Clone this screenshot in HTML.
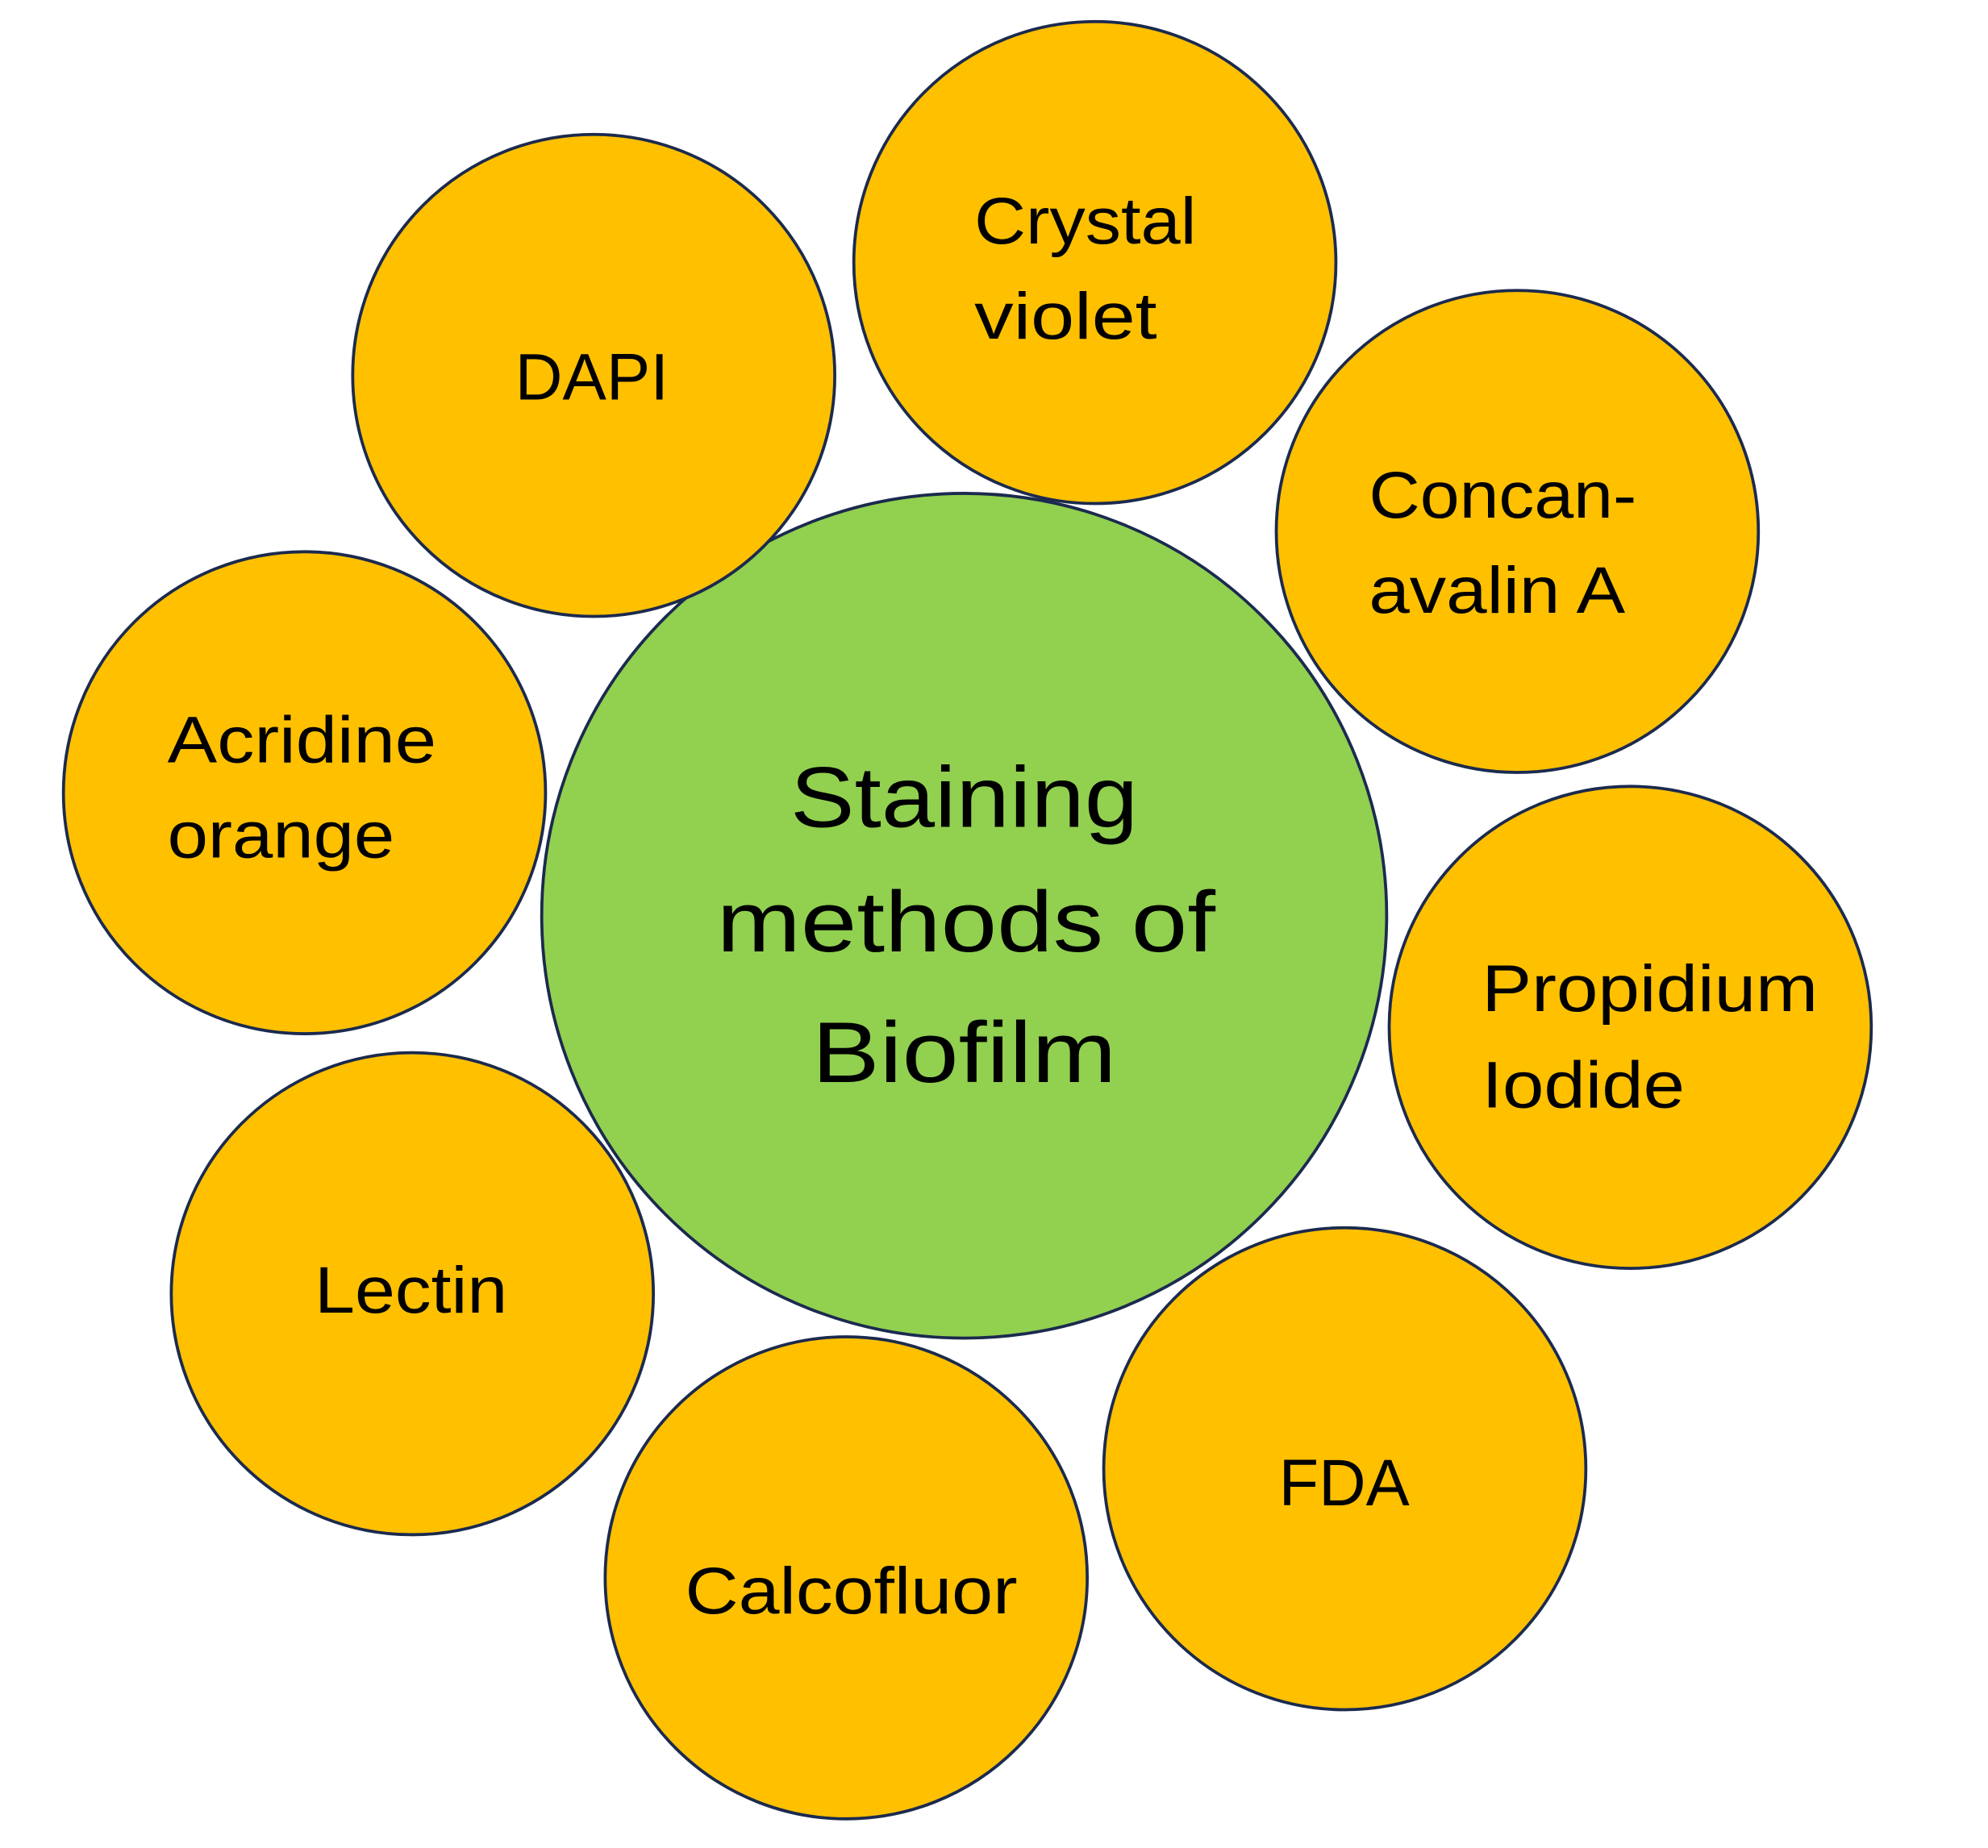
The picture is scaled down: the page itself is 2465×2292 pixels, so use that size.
<!DOCTYPE html>
<html><head><meta charset="utf-8"><style>html,body{margin:0;padding:0;background:#fff}svg{display:block}</style></head>
<body>
<svg width="2465" height="2292" viewBox="0 0 1567 1457" xmlns="http://www.w3.org/2000/svg">
<g stroke="#1B2A4E" stroke-width="2.4">
<ellipse cx="760" cy="722" rx="333" ry="333" fill="#92D050"/>
<g fill="#FFC000">
<circle cx="468" cy="296" r="190"/>
<circle cx="863" cy="207" r="190"/>
<circle cx="1196" cy="419" r="190"/>
<circle cx="1285" cy="810" r="190"/>
<circle cx="1060" cy="1158" r="190"/>
<circle cx="667" cy="1244" r="190"/>
<circle cx="325" cy="1020" r="190"/>
<circle cx="240" cy="625" r="190"/>
</g></g>
<g font-family="Liberation Sans, sans-serif" fill="#000" font-size="52">
<text x="768" y="192" textLength="175" lengthAdjust="spacingAndGlyphs">Crystal</text>
<text x="768" y="267" textLength="144" lengthAdjust="spacingAndGlyphs">violet</text>
<text x="406" y="315" textLength="121" lengthAdjust="spacingAndGlyphs">DAPI</text>
<text x="1079" y="408" textLength="211" lengthAdjust="spacingAndGlyphs">Concan-</text>
<text x="1079" y="483" textLength="202" lengthAdjust="spacingAndGlyphs">avalin A</text>
<text x="132" y="601" textLength="212" lengthAdjust="spacingAndGlyphs">Acridine</text>
<text x="132" y="676" textLength="179" lengthAdjust="spacingAndGlyphs">orange</text>
<text x="1168" y="797" textLength="265" lengthAdjust="spacingAndGlyphs">Propidium</text>
<text x="1168" y="873" textLength="160" lengthAdjust="spacingAndGlyphs">Iodide</text>
<text x="248" y="1035" textLength="152" lengthAdjust="spacingAndGlyphs">Lectin</text>
<text x="540" y="1272" textLength="262" lengthAdjust="spacingAndGlyphs">Calcofluor</text>
<text x="1008" y="1187" textLength="103" lengthAdjust="spacingAndGlyphs">FDA</text>
<g font-size="68">
<text x="623" y="652" textLength="274" lengthAdjust="spacingAndGlyphs">Staining</text>
<text x="565" y="750" textLength="393" lengthAdjust="spacingAndGlyphs">methods of</text>
<text x="640" y="853" textLength="240" lengthAdjust="spacingAndGlyphs">Biofilm</text>
</g></g>
</svg>
</body></html>
